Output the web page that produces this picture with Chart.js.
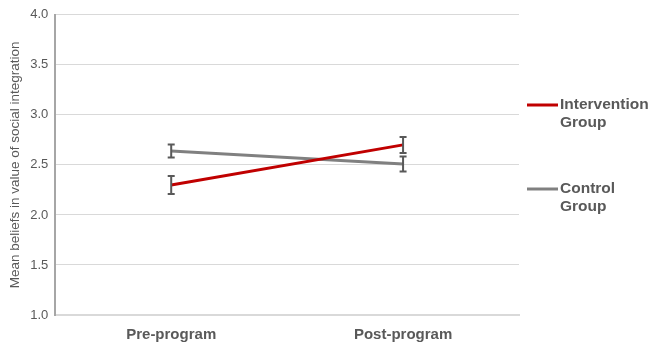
<!DOCTYPE html>
<html>
<head>
<meta charset="utf-8">
<script src="https://cdn.jsdelivr.net/npm/chart.js@4"></script>
<style>
  html, body { margin: 0; padding: 0; background: #fff; }
  #wrap { width: 649px; height: 347px; position: relative; }
</style>
</head>
<body>
<div id="wrap"><canvas id="myChart"></canvas></div>
<script>
const categories = ['Pre-program', 'Post-program'];
const interventionMeans = [2.30, 2.70];
const interventionErr = [0.09, 0.08];
const controlMeans = [2.64, 2.51];
const controlErr = [0.065, 0.075];
const legendLabels = [['Intervention', 'Group'], ['Control', 'Group']];

const textGray = '#595959';

// draws the I-shaped error bars and the wrapped legend on the right
const extras = {
    id: 'extras',
    afterDatasetsDraw(chart) {
        const ctx = chart.ctx;
        const x = chart.scales.x, y = chart.scales.y;
        const errs = [interventionErr, controlErr];
        ctx.save();
        ctx.strokeStyle = '#595959';
        ctx.lineWidth = 2;
        chart.data.datasets.forEach((ds, i) => {
            ds.data.forEach((v, j) => {
                const px = x.getPixelForValue(j);
                const top = y.getPixelForValue(v + errs[i][j]);
                const bot = y.getPixelForValue(v - errs[i][j]);
                ctx.beginPath();
                ctx.moveTo(px, top); ctx.lineTo(px, bot);
                ctx.moveTo(px - 3.5, top); ctx.lineTo(px + 3.5, top);
                ctx.moveTo(px - 3.5, bot); ctx.lineTo(px + 3.5, bot);
                ctx.stroke();
            });
        });
        ctx.restore();
    },
    afterDraw(chart) {
        const ctx = chart.ctx;
        const legendY = [105, 189];
        ctx.save();
        ctx.font = 'bold 15.5px "Liberation Sans", Arial, sans-serif';
        ctx.textBaseline = 'middle';
        ctx.textAlign = 'left';
        chart.data.datasets.forEach((ds, i) => {
            const ly = legendY[i];
            ctx.strokeStyle = ds.borderColor;
            ctx.lineWidth = 3;
            ctx.beginPath();
            ctx.moveTo(527, ly); ctx.lineTo(558, ly);
            ctx.stroke();
            ctx.fillStyle = textGray;
            legendLabels[i].forEach((t, k) => ctx.fillText(t, 560, ly + k * 18));
        });
        ctx.restore();
    }
};

const ctx = document.getElementById('myChart').getContext('2d');
new Chart(ctx, {
    type: 'line',
    data: {
        labels: categories,
        datasets: [
            {
                label: 'Intervention Group',
                data: interventionMeans,
                borderColor: '#C00000',
                borderWidth: 3,
                pointRadius: 0,
                fill: false
            },
            {
                label: 'Control Group',
                data: controlMeans,
                borderColor: '#808080',
                borderWidth: 3,
                pointRadius: 0,
                fill: false
            }
        ]
    },
    options: {
        responsive: true,
        maintainAspectRatio: false,
        animation: false,
        layout: { padding: { top: 9, right: 130, left: 7, bottom: -8 } },
        plugins: {
            legend: { display: false },
            tooltip: { enabled: false }
        },
        scales: {
            x: {
                offset: true,
                grid: { display: false, drawTicks: false },
                border: { color: '#d9d9d9', width: 2 },
                ticks: {
                    color: textGray,
                    padding: 11,
                    font: { family: '"Liberation Sans", Arial, sans-serif', size: 15, weight: 'bold' }
                }
            },
            y: {
                min: 1,
                max: 4,
                ticks: {
                    stepSize: 0.5,
                    color: textGray,
                    padding: 7,
                    callback: v => v.toFixed(1),
                    font: { family: '"Liberation Sans", Arial, sans-serif', size: 13 }
                },
                grid: { color: '#d9d9d9', drawTicks: false },
                border: { color: '#a6a6a6', width: 2 },
                title: {
                    display: true,
                    text: 'Mean beliefs in value of social integration',
                    color: textGray,
                    padding: { top: 0, bottom: 0 },
                    font: { family: '"Liberation Sans", Arial, sans-serif', size: 13.5 }
                }
            }
        }
    },
    plugins: [extras]
});
</script>
</body>
</html>
